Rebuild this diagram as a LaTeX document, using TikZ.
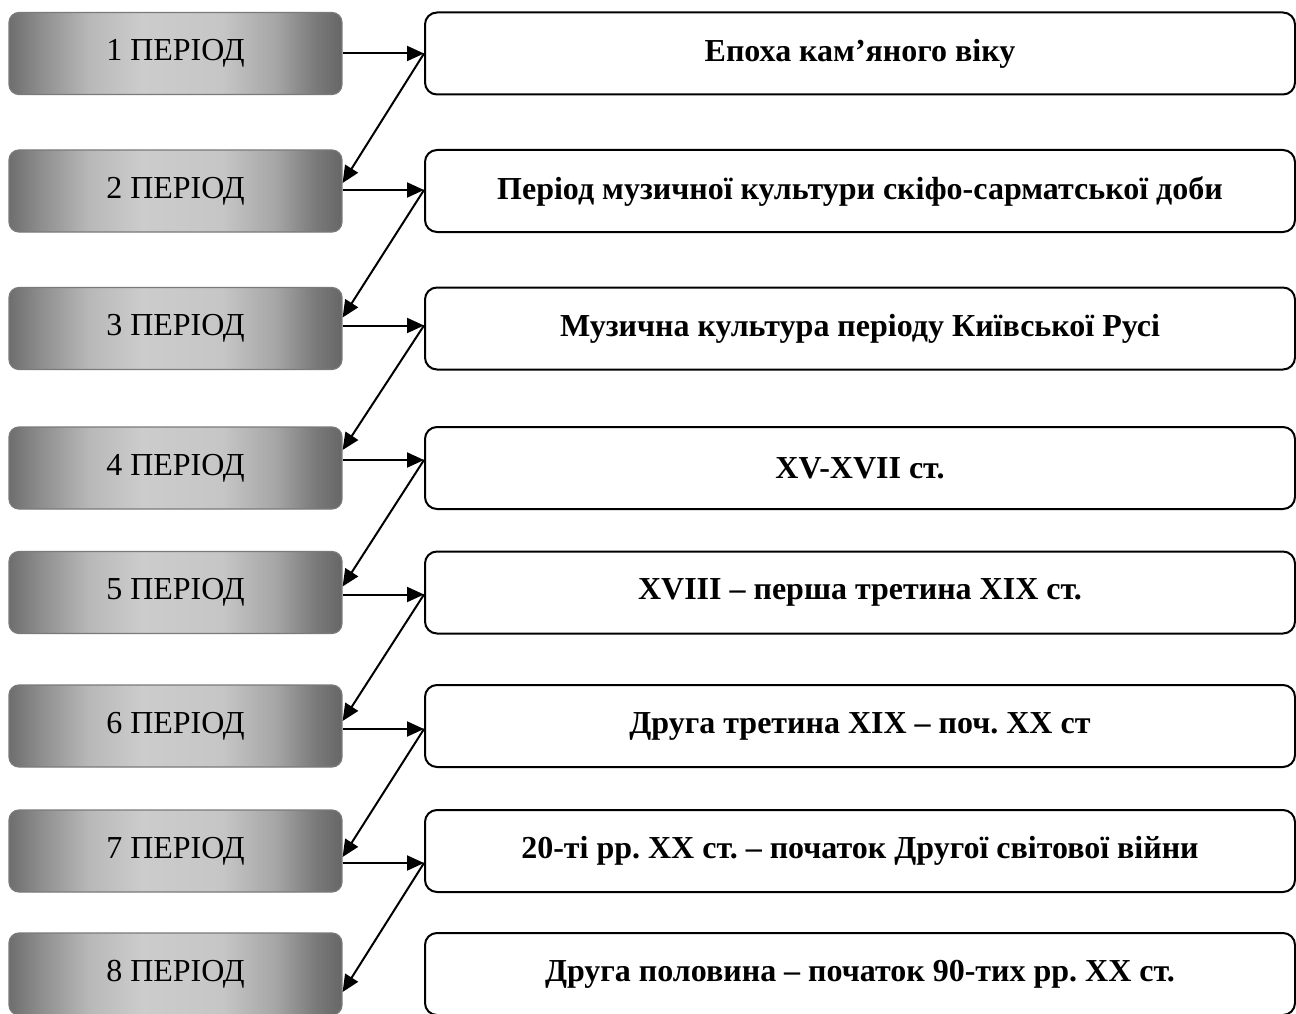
\documentclass[tikz,border=0pt]{standalone}
\usepackage{fontspec}
\setmainfont{Liberation Serif}
\usetikzlibrary{arrows.meta}
\frenchspacing
\definecolor{gA}{HTML}{6E6E6E}
\definecolor{gA2}{HTML}{8F8F8F}
\definecolor{gB}{HTML}{B8B8B8}
\definecolor{gC}{HTML}{CCCCCC}
\definecolor{gC2}{HTML}{C6C6C6}
\definecolor{gD}{HTML}{A6A6A6}
\definecolor{gD2}{HTML}{7A7A7A}
\definecolor{gE}{HTML}{666666}
\definecolor{gedge}{HTML}{7A7A7A}
\pgfdeclarehorizontalshading{metal}{100bp}{color(0bp)=(gA); color(25bp)=(gA); color(30bp)=(gA2); color(37bp)=(gB); color(45bp)=(gC); color(57bp)=(gC2); color(65bp)=(gD); color(71bp)=(gD2); color(75bp)=(gE); color(100bp)=(gE)}
\tikzset{
  lbox/.style={rounded corners=10pt, draw=gedge, line width=1.2pt,
    shading=metal, shading angle=0,
    minimum width=333pt, minimum height=82pt, inner sep=0pt,
    font=\fontsize{32}{36}\selectfont},
  rbox/.style={rounded corners=12pt, draw=black, line width=2pt, fill=white,
    minimum width=870pt, minimum height=82pt, inner sep=0pt,
    font=\bfseries\fontsize{32}{36}\selectfont},
  conn/.style={line width=2pt, -{Triangle[length=17pt,width=15pt]}}
}
\begin{document}
\begin{tikzpicture}[x=1pt,y=-1pt]
\useasboundingbox (0,0) rectangle (1296,1014);
% left boxes
\node[lbox] (L1) at (175.5,53.5) {1 ПЕРІОД};
\node[lbox] (L2) at (175.5,191) {2 ПЕРІОД};
\node[lbox] (L3) at (175.5,328.5) {3 ПЕРІОД};
\node[lbox] (L4) at (175.5,468) {4 ПЕРІОД};
\node[lbox] (L5) at (175.5,592.5) {5 ПЕРІОД};
\node[lbox] (L6) at (175.5,726) {6 ПЕРІОД};
\node[lbox] (L7) at (175.5,851) {7 ПЕРІОД};
\node[lbox] (L8) at (175.5,974) {8 ПЕРІОД};
% right boxes
\node[rbox] (R1) at (860,53.5) {Епоха кам’яного віку};
\node[rbox] (R2) at (860,191) {Період музичної культури скіфо-сарматської доби};
\node[rbox] (R3) at (860,328.5) {Музична культура періоду Київської Русі};
\node[rbox] (R4) at (860,468) {XV-XVII ст.};
\node[rbox] (R5) at (860,592.5) {XVIII – перша третина XIX ст.};
\node[rbox] (R6) at (860,726) {Друга третина XIX – поч. XX ст};
\node[rbox] (R7) at (860,851) {20-ті рр. XX ст. – початок Другої світової війни};
\node[rbox] (R8) at (860,974) {Друга половина – початок 90-тих рр. XX ст.};
% horizontal connectors
\draw[conn] (L1.east) -- (R1.west);
\draw[conn] ([yshift=1pt]L2.east) -- ([yshift=1pt]R2.west);
\draw[conn] ([yshift=3pt]L3.east) -- ([yshift=3pt]R3.west);
\draw[conn] ([yshift=8pt]L4.east) -- ([yshift=8pt]R4.west);
\draw[conn] ([yshift=-2pt]L5.east) -- ([yshift=-2pt]R5.west);
\draw[conn] ([yshift=-3pt]L6.east) -- ([yshift=-3pt]R6.west);
\draw[conn] ([yshift=-12pt]L7.east) -- ([yshift=-12pt]R7.west);
% diagonal connectors
\draw[conn] (R1.west) -- ([yshift=8pt]L2.east);
\draw[conn] ([yshift=1pt]R2.west) -- ([yshift=11pt]L3.east);
\draw[conn] ([yshift=3pt]R3.west) -- ([yshift=18pt]L4.east);
\draw[conn] ([yshift=8pt]R4.west) -- ([yshift=6pt]L5.east);
\draw[conn] ([yshift=-2pt]R5.west) -- ([yshift=5pt]L6.east);
\draw[conn] ([yshift=-3pt]R6.west) -- ([yshift=-6pt]L7.east);
\draw[conn] ([yshift=-12pt]R7.west) -- ([yshift=-18pt]L8.east);
\end{tikzpicture}
\end{document}
